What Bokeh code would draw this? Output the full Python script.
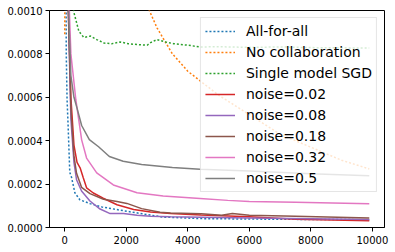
from bokeh.plotting import figure
from bokeh.models import Legend, LegendItem, FixedTicker, PrintfTickFormatter, Range1d
from bokeh.embed import file_html
from bokeh.resources import INLINE

# ---- data ----
x_all = [0, 50, 76, 110, 164, 220, 330, 490, 820, 1200, 1800, 2570, 3200, 4430, 6000, 8000, 9900]
y_all = [0.003, 0.0008, 0.00059, 0.00047, 0.000254, 0.000232, 0.00016, 0.000128, 0.00011,
         0.000095, 0.00008, 0.000062, 0.000048, 0.000041, 0.000039, 0.000037, 0.000036]

x_nocol = [0, 100, 500, 1000, 1500, 2000, 2500, 3000, 3500, 4000, 5000, 6000, 7000, 8000, 9000, 9900]
y_nocol = [0.00089, 0.004, 0.003, 0.0022, 0.0017, 0.00135, 0.00108, 0.00092, 0.0008, 0.00072,
           0.00061, 0.00052, 0.00043, 0.00037, 0.00031, 0.00027]

x_sgd = [0, 100, 200, 300, 460, 620, 840, 1040, 1280, 1530, 1800, 2070, 2350, 2680, 2790, 3000,
         3280, 3540, 4000, 4430, 5000, 6000, 7000, 8000, 9000, 9900]
y_sgd = [0.002, 0.0014, 0.0011, 0.00099, 0.000904, 0.000876, 0.000882, 0.000866, 0.00085, 0.000847,
         0.000855, 0.000847, 0.000843, 0.00084, 0.000852, 0.000866, 0.000855, 0.000847, 0.00084,
         0.000832, 0.000833, 0.00083, 0.000832, 0.000829, 0.000828, 0.000827]

x_n002 = [0, 100, 200, 300, 400, 500, 600, 710, 930, 1250, 1700, 2240, 2790, 3440, 4430, 6000, 7500, 9900]
y_n002 = [0.003, 0.0011, 0.0006, 0.00038, 0.0003, 0.000275, 0.00023, 0.000183, 0.000159, 0.000135,
          0.000105, 0.000083, 0.000071, 0.000064, 0.000058, 0.00005, 0.000038, 0.000031]

x_n008 = [0, 100, 200, 300, 384, 547, 820, 1150, 1475, 1910, 2350, 2790, 3440, 4430, 6000, 8000, 9900]
y_n008 = [0.003, 0.0011, 0.0005, 0.0003, 0.00022, 0.000168, 0.000122, 0.000085, 0.000064, 0.000064,
          0.000057, 0.000052, 0.000049, 0.000047, 0.000044, 0.00004, 0.000037]

x_n018 = [0, 100, 200, 300, 384, 547, 820, 1260, 1700, 2020, 2500, 3100, 3440, 4430, 5100, 5450, 6000, 7500, 9900]
y_n018 = [0.003, 0.0011, 0.00055, 0.00033, 0.00025, 0.000185, 0.000156, 0.00013, 0.00012, 0.000111,
          0.000087, 0.00007, 0.000067, 0.000063, 0.000056, 0.000064, 0.000056, 0.000052, 0.000044]

x_n032 = [0, 100, 200, 360, 550, 710, 1040, 1580, 2350, 3200, 4400, 5300, 6000, 7500, 9900]
y_n032 = [0.003, 0.0012, 0.0008, 0.00059, 0.000404, 0.00032, 0.000252, 0.000196, 0.00016, 0.000145,
          0.000134, 0.000125, 0.00012, 0.000116, 0.000109]

x_n05 = [0, 100, 200, 300, 400, 550, 800, 1100, 1450, 1900, 2500, 3500, 4400, 6000, 8000, 9900]
y_n05 = [0.0025, 0.0011, 0.0007, 0.0006, 0.00055, 0.00047, 0.000405, 0.000372, 0.000327, 0.000305,
         0.00029, 0.000277, 0.000269, 0.00026, 0.000248, 0.000239]

labels = ["All-for-all", "No collaboration", "Single model SGD", "noise=0.02",
          "noise=0.08", "noise=0.18", "noise=0.32", "noise=0.5"]
x_ticks = [0, 2000, 4000, 6000, 8000, 10000]
y_ticks = [0.0, 0.0002, 0.0004, 0.0006, 0.0008, 0.0010]

series = [(x_all, y_all), (x_nocol, y_nocol), (x_sgd, y_sgd), (x_n002, y_n002),
          (x_n008, y_n008), (x_n018, y_n018), (x_n032, y_n032), (x_n05, y_n05)]
colors = ["#1f77b4", "#ff7f0e", "#2ca02c", "#d62728", "#9467bd", "#8c564b", "#e377c2", "#7f7f7f"]
dashes = ["2 2", "2 2", "2 2", "solid", "solid", "solid", "solid", "solid"]

p = figure(width=395, height=252, output_backend="svg", toolbar_location=None,
           x_range=Range1d(-495, 10395), y_range=Range1d(0, 0.001),
           min_border_left=49, min_border_right=11, min_border_top=10, min_border_bottom=25)
p.xgrid.visible = False
p.ygrid.visible = False
p.outline_line_color = "black"
p.outline_line_alpha = 1
p.outline_line_width = 1
p.background_fill_color = "white"
p.border_fill_color = "white"

for ax in (p.xaxis[0], p.yaxis[0]):
    ax.axis_line_color = "black"
    ax.major_tick_line_color = "black"
    ax.major_tick_out = 4
    ax.major_tick_in = 0
    ax.minor_tick_line_color = None
    ax.major_label_text_font = "DejaVu Sans"
    ax.major_label_text_font_size = "10px"
    ax.major_label_text_color = "black"
p.xaxis.ticker = FixedTicker(ticks=x_ticks)
p.yaxis.ticker = FixedTicker(ticks=y_ticks)
p.yaxis.formatter = PrintfTickFormatter(format="%.4f")
p.xaxis.formatter = PrintfTickFormatter(format="%d")
p.yaxis.major_label_standoff = 3
p.xaxis.major_label_standoff = 4

items = []
for (xs, ys), c, d, lab in zip(series, colors, dashes, labels):
    r = p.line(xs, ys, line_color=c, line_width=1.5, line_dash=d)
    items.append(LegendItem(label=lab, renderers=[r]))

legend = Legend(items=items, location="top_right", margin=7, padding=4, spacing=3,
                glyph_height=18, glyph_width=30, label_height=18, label_standoff=11,
                label_text_font="DejaVu Sans", label_text_font_size="14px",
                label_text_color="black", border_line_color="#cccccc",
                background_fill_color="white", background_fill_alpha=0.8)
p.add_layout(legend)

open("out.html", "w").write(file_html(p, INLINE))
